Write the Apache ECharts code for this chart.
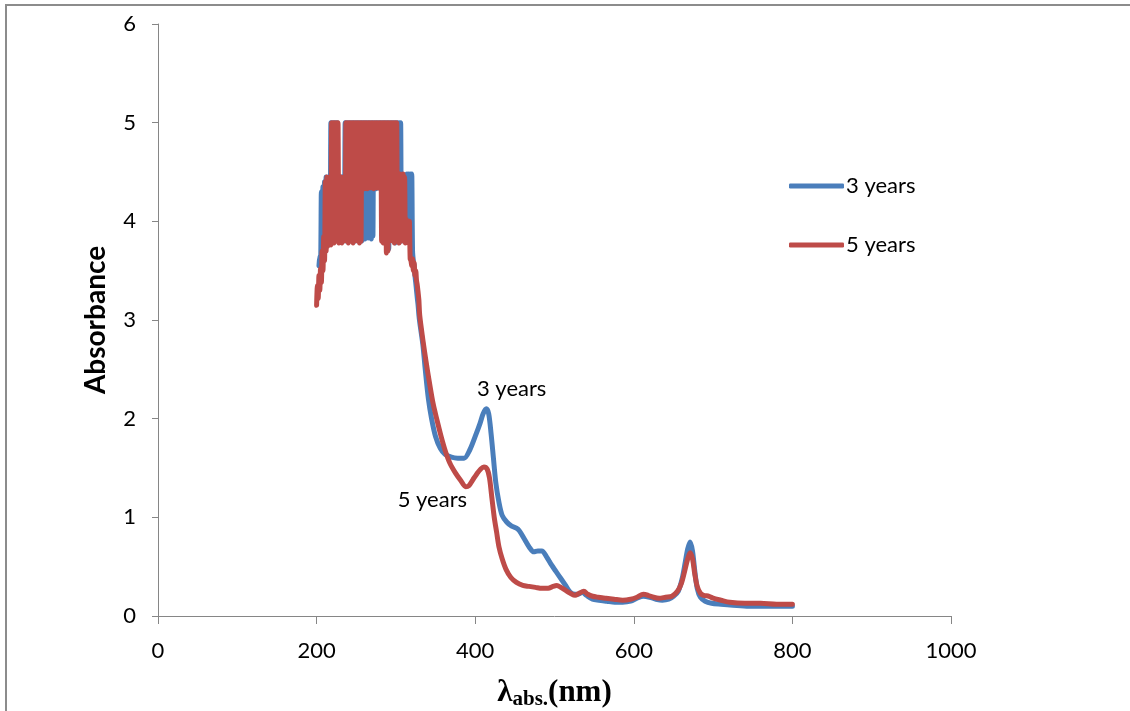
<!DOCTYPE html>
<html>
<head>
<meta charset="utf-8">
<script src="https://cdn.jsdelivr.net/npm/echarts@6/dist/echarts.min.js"></script>
<style>
  html, body { margin: 0; padding: 0; background: #ffffff; }
  #chart { width: 1130px; height: 711px; }
</style>
</head>
<body>
<div id="chart"></div>
<script>
// noisy part of the spectra, sampled every 1 nm
const noiseStart3 = 203;
const noise3 = [
  3.55, 3.65, 3.60, 4.30, 3.70, 4.35, 3.75, 4.40, 3.72, 4.45,
  3.78, 4.42, 3.80, 4.45, 3.78, 5.00, 3.80, 5.00, 3.82, 5.00,
  3.80, 5.00, 3.85, 5.00, 3.82, 4.45, 3.80, 4.42, 3.82, 4.45,
  3.80, 4.42, 3.82, 5.00, 3.80, 5.00, 3.84, 5.00, 3.80, 5.00,
  3.82, 5.00, 3.80, 5.00, 3.85, 5.00, 3.80, 5.00, 3.82, 5.00,
  3.80, 5.00, 3.84, 5.00, 3.80, 5.00, 3.85, 5.00, 3.82, 5.00,
  3.85, 5.00, 3.83, 5.00, 3.85, 5.00, 3.82, 5.00, 3.85, 5.00,
  4.35, 5.00, 4.33, 5.00, 4.35, 5.00, 4.34, 5.00, 4.35, 5.00,
  3.82, 5.00, 3.80, 5.00, 3.78, 5.00, 3.70, 5.00, 3.72, 5.00,
  3.80, 5.00, 3.82, 5.00, 3.80, 5.00, 3.78, 5.00, 3.80, 5.00,
  3.82, 5.00, 3.80, 5.00, 3.80, 4.45, 3.82, 4.45, 3.80, 4.45,
  3.82, 4.48, 3.80, 4.48, 3.82, 4.48, 3.80, 4.48, 3.70, 3.60,
  3.55, 3.45, 3.38, 3.30, 3.22, 3.15, 3.05, 2.98
];
const noiseStart5 = 200;
const noise5 = [
  3.15, 3.35, 3.22, 3.45, 3.30, 3.52, 3.38, 3.70, 3.50, 3.85,
  3.60, 4.40, 3.70, 4.45, 3.75, 4.40, 3.80, 4.45, 3.76, 5.00,
  3.80, 5.00, 3.78, 5.00, 3.80, 5.00, 3.82, 5.00, 3.78, 4.42,
  3.80, 4.45, 3.78, 4.40, 3.80, 4.45, 3.82, 5.00, 3.80, 5.00,
  3.78, 5.00, 3.82, 5.00, 3.80, 5.00, 3.78, 5.00, 3.80, 5.00,
  3.82, 5.00, 3.80, 5.00, 3.78, 5.00, 3.80, 5.00, 4.35, 5.00,
  4.33, 5.00, 4.35, 5.00, 4.33, 5.00, 4.35, 5.00, 4.34, 5.00,
  4.35, 5.00, 4.33, 5.00, 4.35, 5.00, 4.34, 5.00, 4.35, 5.00,
  4.33, 5.00, 3.80, 5.00, 3.78, 5.00, 3.80, 5.00, 3.68, 5.00,
  3.70, 5.00, 3.80, 5.00, 3.82, 5.00, 3.80, 5.00, 3.78, 5.00,
  3.80, 5.00, 3.80, 4.45, 3.78, 4.48, 3.80, 4.45, 3.82, 4.48,
  3.80, 4.45, 3.78, 4.02, 3.80, 4.00, 3.78, 4.00, 3.62, 3.60,
  3.55, 3.62, 3.50, 3.58, 3.45, 3.50, 3.40, 3.35, 3.28, 3.20, 3.05
];

// smooth tail of the spectra
const tailWl3 = [334, 337, 341, 345, 350, 356, 362, 370, 378, 386, 393, 400, 406, 410, 414, 417, 420, 423, 426, 430,
  434, 440, 446, 452, 456, 462, 468, 474, 479, 484, 490, 496, 502, 508, 514, 520, 526, 530, 535, 540,
  548, 556, 566, 576, 586, 596, 604, 612, 620, 628, 636, 644, 650, 656, 661, 665, 668, 671, 674, 677,
  680, 684, 690, 698, 710, 725, 745, 770, 800];
const tailAbs3 = [2.75, 2.5, 2.2, 2.0, 1.82, 1.7, 1.64, 1.61, 1.6, 1.6, 1.68, 1.82, 1.95, 2.05, 2.1, 2.05, 1.85, 1.6, 1.35, 1.15,
  1.02, 0.95, 0.91, 0.89, 0.86, 0.78, 0.7, 0.65, 0.66, 0.66, 0.6, 0.52, 0.45, 0.38, 0.31, 0.24, 0.22, 0.22, 0.24, 0.21,
  0.17, 0.16, 0.15, 0.14, 0.14, 0.15, 0.18, 0.2, 0.19, 0.17, 0.16, 0.17, 0.2, 0.25, 0.38, 0.55, 0.68, 0.75, 0.66, 0.45,
  0.28, 0.19, 0.15, 0.13, 0.12, 0.11, 0.1, 0.1, 0.1];

const tailWl5 = [334, 338, 342, 347, 352, 357, 362, 368, 375, 382, 388, 392, 397, 402, 407, 411, 415, 418, 421, 424,
  427, 430, 434, 439, 445, 452, 460, 468, 476, 484, 492, 498, 503, 508, 514, 520, 526, 531, 537, 542,
  548, 555, 565, 575, 586, 596, 604, 612, 618, 625, 632, 640, 648, 655, 660, 664, 668, 671, 674, 677,
  680, 684, 688, 695, 700, 710, 721, 740, 760, 780, 800];
const tailAbs5 = [2.8, 2.58, 2.38, 2.15, 1.98, 1.82, 1.68, 1.55, 1.45, 1.37, 1.31, 1.32, 1.38, 1.44, 1.49, 1.51, 1.49, 1.4, 1.2, 1.0,
  0.85, 0.7, 0.58, 0.47, 0.39, 0.34, 0.31, 0.3, 0.29, 0.28, 0.28, 0.3, 0.31, 0.29, 0.26, 0.23, 0.21, 0.23, 0.25, 0.22,
  0.2, 0.19, 0.18, 0.17, 0.16, 0.17, 0.19, 0.22, 0.21, 0.19, 0.18, 0.19, 0.2, 0.25, 0.33, 0.45, 0.58, 0.64, 0.58, 0.42,
  0.3, 0.23, 0.21, 0.2, 0.18, 0.16, 0.14, 0.13, 0.13, 0.12, 0.12];

const seriesNames = ['3 years', '5 years'];
const xTicks = [0, 1000, 200];
const yTicks = [0, 6, 1];

function buildData(start, noise, tailWl, tailAbs) {
  const data = [];
  noise.forEach((v, i) => data.push([start + i, v]));
  tailWl.forEach((w, i) => data.push([w, tailAbs[i]]));
  return data;
}

const chart = echarts.init(document.getElementById('chart'));
const font = 'Lato, "Open Sans", sans-serif';
const serif = '"Liberation Serif", serif';

chart.setOption({
  backgroundColor: '#ffffff',
  animation: false,
  grid: { left: 158, right: 179, top: 24, bottom: 95, outerBoundsMode: 'none' },
  legend: {
    orient: 'vertical',
    left: 784,
    top: 170,
    itemWidth: 55,
    itemHeight: 5,
    itemGap: 37,
    icon: 'roundRect',
    textStyle: { fontFamily: font, fontSize: 22, color: '#000', padding: [0, 0, 0, -3] },
    data: seriesNames
  },
  xAxis: {
    type: 'value',
    min: xTicks[0], max: xTicks[1], interval: xTicks[2],
    axisLine: { lineStyle: { color: '#868686' } },
    axisTick: { show: true, length: 8, lineStyle: { color: '#868686' } },
    splitLine: { show: false },
    axisLabel: { fontFamily: font, fontSize: 22, color: '#000', margin: 24, formatter: v => String(v) },
    name: '{a|λ}{b|abs.}{a|(nm)}',
    nameLocation: 'middle',
    nameGap: 60,
    nameTextStyle: {
      rich: {
        a: { fontFamily: serif, fontWeight: 'bold', fontSize: 31, color: '#000' },
        b: { fontFamily: serif, fontWeight: 'bold', fontSize: 21, color: '#000', padding: [13, 0, 0, 0] }
      }
    }
  },
  yAxis: {
    type: 'value',
    min: yTicks[0], max: yTicks[1], interval: yTicks[2],
    axisLine: { show: true, lineStyle: { color: '#868686' } },
    axisTick: { show: true, length: 6, lineStyle: { color: '#868686' } },
    splitLine: { show: false },
    axisLabel: { fontFamily: font, fontSize: 22, color: '#000', margin: 22 },
    name: 'Absorbance',
    nameLocation: 'middle',
    nameGap: 48,
    nameRotate: 90,
    nameTextStyle: { fontFamily: font, fontWeight: 'bold', fontSize: 28, color: '#000' }
  },
  graphic: [{
    type: 'rect',
    shape: { x: 6, y: 5, width: 1200, height: 800 },
    style: { fill: 'none', stroke: '#8c8c8c', lineWidth: 2 },
    silent: true
  }],
  series: [{
    name: seriesNames[0],
    type: 'line',
    showSymbol: false,
    smooth: 0.3,
    color: '#4A7EBB',
    lineStyle: { width: 5, color: '#4A7EBB', cap: 'round', join: 'round' },
    data: buildData(noiseStart3, noise3, tailWl3, tailAbs3),
    markPoint: {
      symbol: 'circle', symbolSize: 1,
      itemStyle: { color: 'transparent' },
      label: { show: true, position: 'inside', fontFamily: font, fontSize: 22, color: '#000', formatter: '{b}' },
      data: [{ name: seriesNames[0], coord: [446, 2.3] }]
    }
  }, {
    name: seriesNames[1],
    type: 'line',
    showSymbol: false,
    smooth: 0.3,
    color: '#BE4B48',
    lineStyle: { width: 5, color: '#BE4B48', cap: 'round', join: 'round' },
    data: buildData(noiseStart5, noise5, tailWl5, tailAbs5),
    markPoint: {
      symbol: 'circle', symbolSize: 1,
      itemStyle: { color: 'transparent' },
      label: { show: true, position: 'inside', fontFamily: font, fontSize: 22, color: '#000', formatter: '{b}' },
      data: [{ name: seriesNames[1], coord: [346, 1.18] }]
    }
  }]
});
</script>
</body>
</html>
